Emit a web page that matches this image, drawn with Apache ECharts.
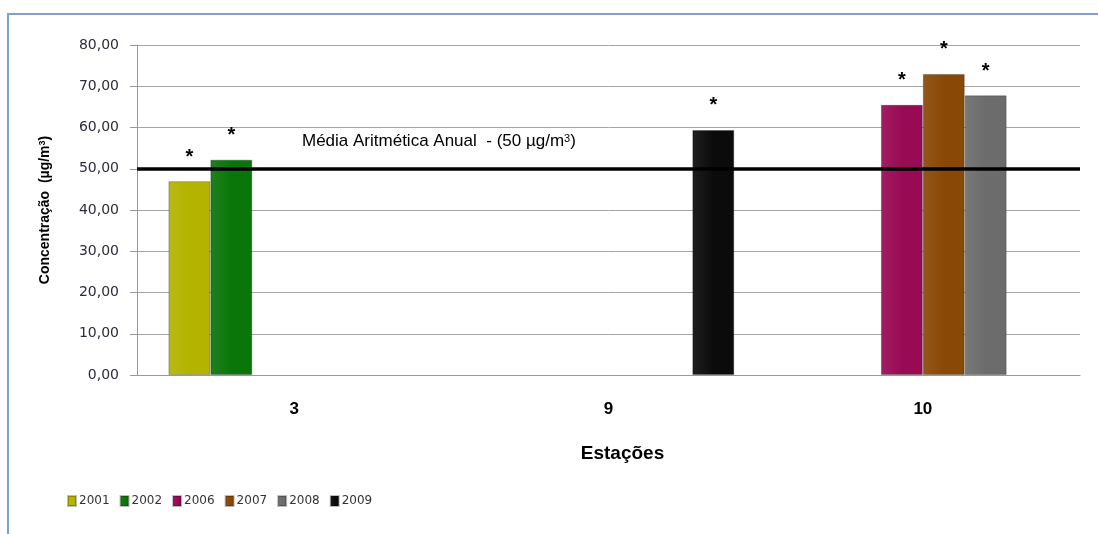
<!DOCTYPE html>
<html>
<head>
<meta charset="utf-8">
<script src="https://cdn.jsdelivr.net/npm/echarts@6/dist/echarts.min.js"></script>
<style>
    html, body { margin: 0; padding: 0; background: #fff; }
    #chart { width: 1098px; height: 534px; }
</style>
</head>
<body>
<div id="chart"></div>
<script>
(function (win) {
    var estacoes = ['3', '9', '10'],
        anos = ['2001', '2002', '2006', '2007', '2008', '2009'],
        cores = ['#b3b300', '#0a760a', '#990a55', '#8a4806', '#6c6c6c', '#0b0b0b'];

    // valores por ano (null = sem medição na estação)
    var v2001 = [47.0, null, null],
        v2002 = [52.2, null, null],
        v2006 = [null, null, 65.5],
        v2007 = [null, null, 73.0],
        v2008 = [null, null, 67.8],
        v2009 = [null, 59.4, null];
    var valores = [v2001, v2002, v2006, v2007, v2008, v2009];

    var yTicks = [0, 10, 20, 30, 40, 50, 60, 70, 80],
        mediaAnual = 50;

    var chart = echarts.init(document.getElementById('chart'));

    function clarear(hex, f) {
        var n = parseInt(hex.slice(1), 16),
            r = (n >> 16) & 255, g = (n >> 8) & 255, b = n & 255;
        r = Math.min(255, Math.round(r + (255 - r) * f));
        g = Math.min(255, Math.round(g + (255 - g) * f));
        b = Math.min(255, Math.round(b + (255 - b) * f));
        return 'rgb(' + r + ',' + g + ',' + b + ')';
    }

    var series = anos.map(function (ano, i) {
        var s = {
            name: ano,
            type: 'bar',
            barGap: 0,
            barCategoryGap: '20%',
            data: valores[i],
            itemStyle: {
                color: {
                    type: 'linear', x: 0, y: 0, x2: 1, y2: 0,
                    colorStops: [
                        { offset: 0, color: clarear(cores[i], 0.08) },
                        { offset: 0.5, color: cores[i] },
                        { offset: 1, color: cores[i] }
                    ]
                },
                borderColor: 'rgba(0,0,0,0.25)',
                borderWidth: 1
            },
            label: {
                show: true,
                position: 'top',
                distance: 14,
                formatter: '*',
                color: '#000',
                fontSize: 20,
                fontWeight: 'bold',
                fontFamily: 'Liberation Sans'
            }
        };
        if (i === 0) {
            s.markLine = {
                silent: true,
                symbol: 'none',
                label: { show: false },
                lineStyle: { color: '#000', width: 3.5, type: 'solid' },
                data: [{ yAxis: mediaAnual }]
            };
        }
        return s;
    });

    chart.setOption({
        animation: false,
        backgroundColor: '#fff',
        grid: { left: 137, right: 18, top: 45, bottom: 159 },
        legend: {
            left: 62,
            top: 490,
            itemWidth: 8,
            itemHeight: 10,
            itemGap: 10,
            icon: 'rect',
            textStyle: { color: '#333', fontSize: 12, fontFamily: 'DejaVu Sans', padding: [0, 0, 0, -2] },
            data: anos
        },
        xAxis: {
            type: 'category',
            data: estacoes,
            name: 'Estações',
            nameLocation: 'middle',
            nameGap: 69,
            nameTextStyle: { color: '#000', fontSize: 19, fontWeight: 'bold', fontFamily: 'Liberation Sans', padding: [0, 0, 0, 28] },
            axisLine: { show: true, lineStyle: { color: '#999' } },
            axisTick: { show: false },
            axisLabel: { color: '#000', fontSize: 17, fontWeight: 'bold', fontFamily: 'Liberation Sans', margin: 26 }
        },
        yAxis: {
            type: 'value',
            min: yTicks[0],
            max: yTicks[yTicks.length - 1],
            interval: 10,
            name: '{b|Concentração  (µg/m}{s|3}{b|)}',
            nameLocation: 'middle',
            nameGap: 84,
            nameRotate: 90,
            nameTextStyle: {
                rich: {
                    b: { fontSize: 14, fontWeight: 'bold', color: '#000', fontFamily: 'Liberation Sans' },
                    s: { fontSize: 9, fontWeight: 'bold', color: '#000', fontFamily: 'Liberation Sans', verticalAlign: 'top', padding: [0, 0, 6, 0] }
                }
            },
            axisLine: { show: true, lineStyle: { color: '#999' } },
            axisTick: { show: true, length: 7, lineStyle: { color: '#999' } },
            axisLabel: {
                color: '#2b2b3b',
                fontSize: 14,
                fontFamily: 'DejaVu Sans',
                margin: 18,
                formatter: function (v) { return v.toFixed(2).replace('.', ','); }
            },
            splitLine: { lineStyle: { color: '#a6a6a6', width: 1 } }
        },
        graphic: [
            {
                type: 'rect',
                shape: { x: 8, y: 14, width: 1200, height: 600 },
                style: { fill: 'none', stroke: '#7f9fcc', lineWidth: 2 },
                silent: true
            },
            {
                type: 'text',
                left: 302,
                top: 133,
                style: {
                    text: '{t|Média Aritmética Anual  - (50 µg/m}{s|3}{t|)}',
                    rich: {
                        t: { fill: '#000', fontSize: 17, fontFamily: 'Liberation Sans' },
                        s: { fill: '#000', fontSize: 11, fontFamily: 'Liberation Sans', verticalAlign: 'top', padding: [0, 0, 6, 0] }
                    }
                }
            }
        ],
        series: series
    });
})(this);
</script>
</body>
</html>
